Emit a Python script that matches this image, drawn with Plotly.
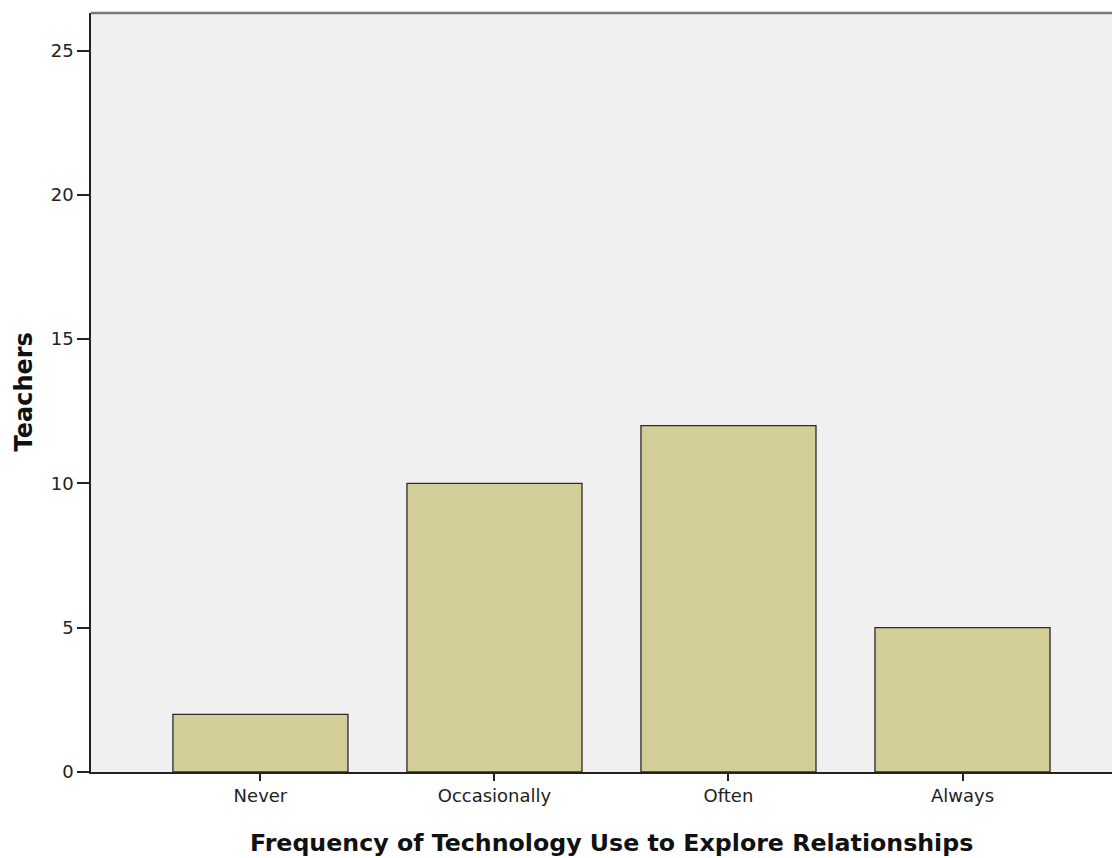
import plotly.graph_objects as go

categories = ["Never", "Occasionally", "Often", "Always"]
teachers = [2, 10, 12, 5]
y_ticks = [0, 5, 10, 15, 20, 25]

x_title = "Frequency of Technology Use to Explore Relationships"
y_title = "Teachers"

fig = go.Figure(go.Bar(
    x=list(range(len(categories))),
    y=teachers,
    width=0.748,
    marker=dict(color="#d3ce97", line=dict(color="#2a2a2a", width=1.3)),
    hoverinfo="x+y",
))

# page body has an 8px margin, so the figure is sized/offset to land the plot at 91..1120 x 13..772
fig.update_layout(
    width=1120,
    height=850,
    margin=dict(l=83, r=8, t=5, b=86),
    paper_bgcolor="white",
    plot_bgcolor="#f0f0f0",
    font=dict(family="DejaVu Sans, sans-serif", size=18, color="#222222"),
    showlegend=False,
    xaxis=dict(
        range=[-0.724, 3.673],
        tickvals=list(range(len(categories))),
        ticktext=categories,
        ticks="outside",
        ticklen=7,
        tickwidth=1.5,
        tickcolor="#222222",
        showgrid=False,
        zeroline=False,
        showline=True,
        linecolor="#222222",
        linewidth=1.5,
    ),
    yaxis=dict(
        range=[0, 26.3],
        tickvals=y_ticks,
        ticks="outside",
        ticklen=12,
        tickwidth=1.5,
        tickcolor="#222222",
        showgrid=False,
        zeroline=False,
        showline=True,
        linecolor="#222222",
        linewidth=1.5,
    ),
)

# gray frame line along the top of the plot area
fig.add_shape(type="line", xref="paper", yref="paper", x0=0, x1=1, y0=1, y1=1,
              line=dict(color="#7a7a7a", width=2.5))

# axis titles
fig.add_annotation(text="<b>" + x_title + "</b>", xref="paper", yref="paper",
                   x=0.506, y=0, xanchor="center", yanchor="middle", yshift=-71,
                   showarrow=False, font=dict(size=23.7, color="#111111"))
fig.add_annotation(text="<b>" + y_title + "</b>", xref="paper", yref="paper",
                   x=0, y=0.5, xanchor="center", yanchor="middle", xshift=-68,
                   textangle=-90, showarrow=False, font=dict(size=24, color="#111111"))

fig.write_html("out.html")
